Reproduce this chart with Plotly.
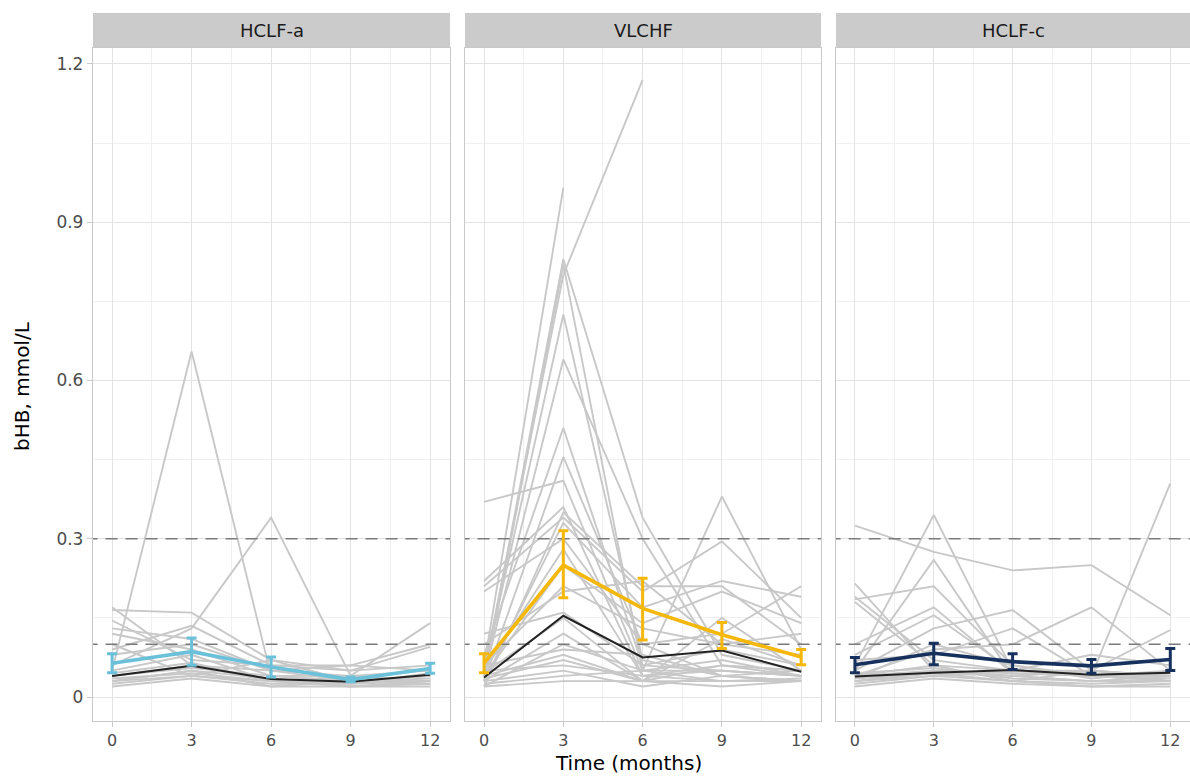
import plotly.graph_objects as go

# ---------------- data ----------------
times = [0, 3, 6, 9, 12]
groups = ["HCLF-a", "VLCHF", "HCLF-c"]

hclf_a_subjects = [
    [0.05, 0.655, 0.04, 0.03, 0.03],
    [0.06, 0.13, 0.34, 0.04, 0.03],
    [0.165, 0.16, 0.07, 0.03, 0.04],
    [0.17, 0.06, 0.05, 0.04, 0.05],
    [0.145, 0.07, 0.06, 0.06, 0.10],
    [0.13, 0.11, 0.05, 0.03, 0.03],
    [0.12, 0.09, 0.04, 0.04, 0.14],
    [0.10, 0.04, 0.07, 0.05, 0.095],
    [0.09, 0.135, 0.06, 0.05, 0.06],
    [0.08, 0.10, 0.05, 0.06, 0.05],
    [0.05, 0.08, 0.03, 0.03, 0.04],
    [0.04, 0.06, 0.03, 0.02, 0.03],
    [0.03, 0.05, 0.02, 0.02, 0.025],
    [0.035, 0.045, 0.03, 0.03, 0.035],
    [0.025, 0.04, 0.025, 0.025, 0.03],
    [0.03, 0.05, 0.035, 0.02, 0.02],
    [0.04, 0.055, 0.04, 0.03, 0.04],
    [0.02, 0.035, 0.02, 0.03, 0.025],
    [0.045, 0.065, 0.03, 0.025, 0.045],
    [0.03, 0.04, 0.03, 0.035, 0.03],
]

vlchf_subjects = [
    [0.06, 0.965, None, None, None],
    [0.05, 0.80, 1.17, None, None],
    [0.04, 0.83, 0.34, 0.08, 0.05],
    [0.03, 0.82, 0.05, 0.05, 0.04],
    [0.05, 0.725, 0.07, 0.04, 0.03],
    [0.04, 0.64, 0.30, 0.06, 0.05],
    [0.08, 0.51, 0.06, 0.05, 0.04],
    [0.03, 0.455, 0.10, 0.04, 0.03],
    [0.37, 0.41, 0.05, 0.38, 0.09],
    [0.22, 0.36, 0.04, 0.06, 0.05],
    [0.02, 0.35, 0.21, 0.21, 0.10],
    [0.21, 0.34, 0.20, 0.295, 0.15],
    [0.03, 0.33, 0.17, 0.22, 0.19],
    [0.20, 0.30, 0.10, 0.12, 0.21],
    [0.05, 0.28, 0.04, 0.03, 0.03],
    [0.04, 0.25, 0.14, 0.20, 0.14],
    [0.06, 0.21, 0.13, 0.10, 0.12],
    [0.12, 0.16, 0.06, 0.09, 0.06],
    [0.03, 0.12, 0.03, 0.15, 0.05],
    [0.02, 0.10, 0.05, 0.07, 0.04],
    [0.04, 0.08, 0.03, 0.02, 0.03],
    [0.05, 0.06, 0.04, 0.05, 0.04],
    [0.03, 0.05, 0.02, 0.04, 0.03],
    [0.025, 0.04, 0.05, 0.03, 0.035],
    [0.035, 0.07, 0.03, 0.06, 0.04],
    [0.06, 0.09, 0.08, 0.04, 0.05],
    [0.02, 0.03, 0.03, 0.03, 0.03],
    [0.045, 0.15, 0.03, 0.11, 0.06],
    [0.10, 0.20, 0.22, 0.10, 0.08],
]

hclf_c_subjects = [
    [0.325, 0.275, 0.24, 0.25, 0.155],
    [0.06, 0.345, 0.05, 0.04, 0.03],
    [0.05, 0.26, 0.04, 0.05, 0.04],
    [0.215, 0.05, 0.04, 0.03, 0.03],
    [0.19, 0.07, 0.05, 0.04, 0.04],
    [0.185, 0.21, 0.06, 0.04, 0.05],
    [0.18, 0.06, 0.03, 0.05, 0.04],
    [0.10, 0.17, 0.045, 0.04, 0.405],
    [0.08, 0.155, 0.05, 0.05, 0.127],
    [0.05, 0.13, 0.165, 0.05, 0.04],
    [0.04, 0.09, 0.10, 0.17, 0.05],
    [0.07, 0.08, 0.13, 0.04, 0.03],
    [0.04, 0.06, 0.05, 0.08, 0.06],
    [0.03, 0.05, 0.04, 0.03, 0.03],
    [0.035, 0.045, 0.03, 0.02, 0.025],
    [0.025, 0.04, 0.05, 0.04, 0.035],
    [0.045, 0.055, 0.035, 0.03, 0.04],
    [0.03, 0.04, 0.03, 0.025, 0.03],
    [0.02, 0.035, 0.025, 0.02, 0.02],
    [0.04, 0.05, 0.045, 0.04, 0.045],
    [0.035, 0.10, 0.06, 0.035, 0.05],
    [0.03, 0.045, 0.04, 0.05, 0.03],
]

hclf_a_mean = [0.064, 0.086, 0.057, 0.033, 0.054]
hclf_a_upper = [0.082, 0.112, 0.076, 0.038, 0.064]
hclf_a_lower = [0.046, 0.060, 0.038, 0.029, 0.045]
hclf_a_median = [0.040, 0.059, 0.034, 0.029, 0.042]

vlchf_mean = [0.064, 0.250, 0.168, 0.118, 0.076]
vlchf_upper = [0.082, 0.315, 0.225, 0.141, 0.090]
vlchf_lower = [0.046, 0.188, 0.108, 0.092, 0.061]
vlchf_median = [0.037, 0.154, 0.075, 0.088, 0.048]

hclf_c_mean = [0.061, 0.083, 0.067, 0.059, 0.071]
hclf_c_upper = [0.075, 0.102, 0.082, 0.071, 0.092]
hclf_c_lower = [0.046, 0.061, 0.052, 0.045, 0.050]
hclf_c_median = [0.039, 0.046, 0.051, 0.042, 0.046]

thresholds = [0.3, 0.1]
y_ticks = [0, 0.3, 0.6, 0.9, 1.2]
y_tick_labels = ["0", "0.3", "0.6", "0.9", "1.2"]
x_ticks = [0, 3, 6, 9, 12]

subjects = [hclf_a_subjects, vlchf_subjects, hclf_c_subjects]
means = [hclf_a_mean, vlchf_mean, hclf_c_mean]
uppers = [hclf_a_upper, vlchf_upper, hclf_c_upper]
lowers = [hclf_a_lower, vlchf_lower, hclf_c_lower]
medians = [hclf_a_median, vlchf_median, hclf_c_median]
colors = ["#6BC0DA", "#F5B80A", "#17315E"]

FONT = "DejaVu Sans, Liberation Sans, Arial, sans-serif"

# ---------------- layout geometry (pixels) ----------------
W, H = 1190, 776
panels_px = [(93, 450), (465, 821), (836, 1190)]
top_px, bottom_px = 48, 721
strip_top_px = 13

def xf(px):
    return px / W

def yf(py):
    return 1 - py / H

fig = go.Figure()

for i in range(3):
    xa = "x" if i == 0 else f"x{i+1}"
    ya = "y" if i == 0 else f"y{i+1}"
    for s in subjects[i]:
        fig.add_trace(go.Scatter(x=times, y=s, mode="lines", xaxis=xa, yaxis=ya,
                                 line=dict(color="#C8C8C8", width=1.9),
                                 connectgaps=False, showlegend=False, hoverinfo="skip"))
    for t in thresholds:
        fig.add_trace(go.Scatter(x=[-1, 13], y=[t, t], mode="lines", xaxis=xa, yaxis=ya,
                                 line=dict(color="#7A7A7A", width=1.5, dash="12px,8px"),
                                 showlegend=False, hoverinfo="skip"))
    fig.add_trace(go.Scatter(x=times, y=medians[i], mode="lines", xaxis=xa, yaxis=ya,
                             line=dict(color="#222222", width=2),
                             showlegend=False))
    up = [u - m for u, m in zip(uppers[i], means[i])]
    lo = [m - l for l, m in zip(lowers[i], means[i])]
    fig.add_trace(go.Scatter(x=times, y=means[i], mode="lines", xaxis=xa, yaxis=ya,
                             line=dict(color=colors[i], width=3.6),
                             error_y=dict(type="data", array=up, arrayminus=lo, visible=True,
                                          color=colors[i], thickness=3, width=5),
                             showlegend=False))

tickfont = dict(family=FONT, size=16, color="#4D4D4D")
axis_common_x = dict(range=[-0.72, 12.75], tickvals=x_ticks, ticktext=[str(v) for v in x_ticks],
                     showgrid=True, gridcolor="#E3E3E3", gridwidth=1.1,
                     minor=dict(tickvals=[1.5, 4.5, 7.5, 10.5], showgrid=True,
                                gridcolor="#F0F0F0", gridwidth=0.7),
                     zeroline=False, showline=True, mirror=True, linecolor="#C9C9C9", linewidth=1.3,
                     ticks="outside", ticklen=5, tickcolor="#C9C9C9", tickwidth=1.1,
                     tickfont=tickfont, fixedrange=True)
axis_common_y = dict(range=[-0.0455, 1.2303], tickvals=y_ticks, ticktext=y_tick_labels,
                     showgrid=True, gridcolor="#E3E3E3", gridwidth=1.1,
                     minor=dict(tickvals=[0.15, 0.45, 0.75, 1.05], showgrid=True,
                                gridcolor="#F0F0F0", gridwidth=0.7),
                     zeroline=False, showline=True, mirror=True, linecolor="#C9C9C9", linewidth=1.3,
                     ticks="outside", ticklen=5, tickcolor="#C9C9C9", tickwidth=1.1,
                     tickfont=dict(family=FONT, size=17, color="#4D4D4D"),
                     domain=[yf(bottom_px), yf(top_px)], fixedrange=True)

layout_axes = {}
for i in range(3):
    xk = "xaxis" if i == 0 else f"xaxis{i+1}"
    yk = "yaxis" if i == 0 else f"yaxis{i+1}"
    x0, x1 = panels_px[i]
    ax = dict(axis_common_x)
    ax["domain"] = [xf(x0), xf(x1)]
    ax["anchor"] = "y" if i == 0 else f"y{i+1}"
    ay = dict(axis_common_y)
    ay["anchor"] = "x" if i == 0 else f"x{i+1}"
    if i > 0:
        ay["showticklabels"] = False
        ay["ticks"] = ""
    layout_axes[xk] = ax
    layout_axes[yk] = ay

shapes = []
annotations = []
for i, g in enumerate(groups):
    x0, x1 = panels_px[i]
    shapes.append(dict(type="rect", xref="paper", yref="paper",
                       x0=xf(x0), x1=xf(x1), y0=yf(top_px), y1=yf(strip_top_px),
                       fillcolor="#CBCBCB", line=dict(width=0), layer="below"))
    annotations.append(dict(text=g, xref="paper", yref="paper",
                            x=xf((x0 + x1) / 2), y=yf((top_px + strip_top_px) / 2),
                            showarrow=False, xanchor="center", yanchor="middle",
                            font=dict(family=FONT, size=18, color="#1A1A1A")))

annotations.append(dict(text="Time (months)", xref="paper", yref="paper",
                        x=xf(628), y=yf(776), showarrow=False, xanchor="center", yanchor="bottom",
                        borderpad=0,
                        font=dict(family=FONT, size=20, color="#000000")))
annotations.append(dict(text="bHB, mmol/L", xref="paper", yref="paper",
                        x=xf(22), y=yf(386), showarrow=False, textangle=-90,
                        xanchor="center", yanchor="middle",
                        font=dict(family=FONT, size=20, color="#000000")))

fig.update_layout(width=W, height=H, margin=dict(l=0, r=0, t=0, b=0),
                  paper_bgcolor="white", plot_bgcolor="white",
                  shapes=shapes, annotations=annotations, showlegend=False,
                  **layout_axes)

fig.write_html("out.html")
